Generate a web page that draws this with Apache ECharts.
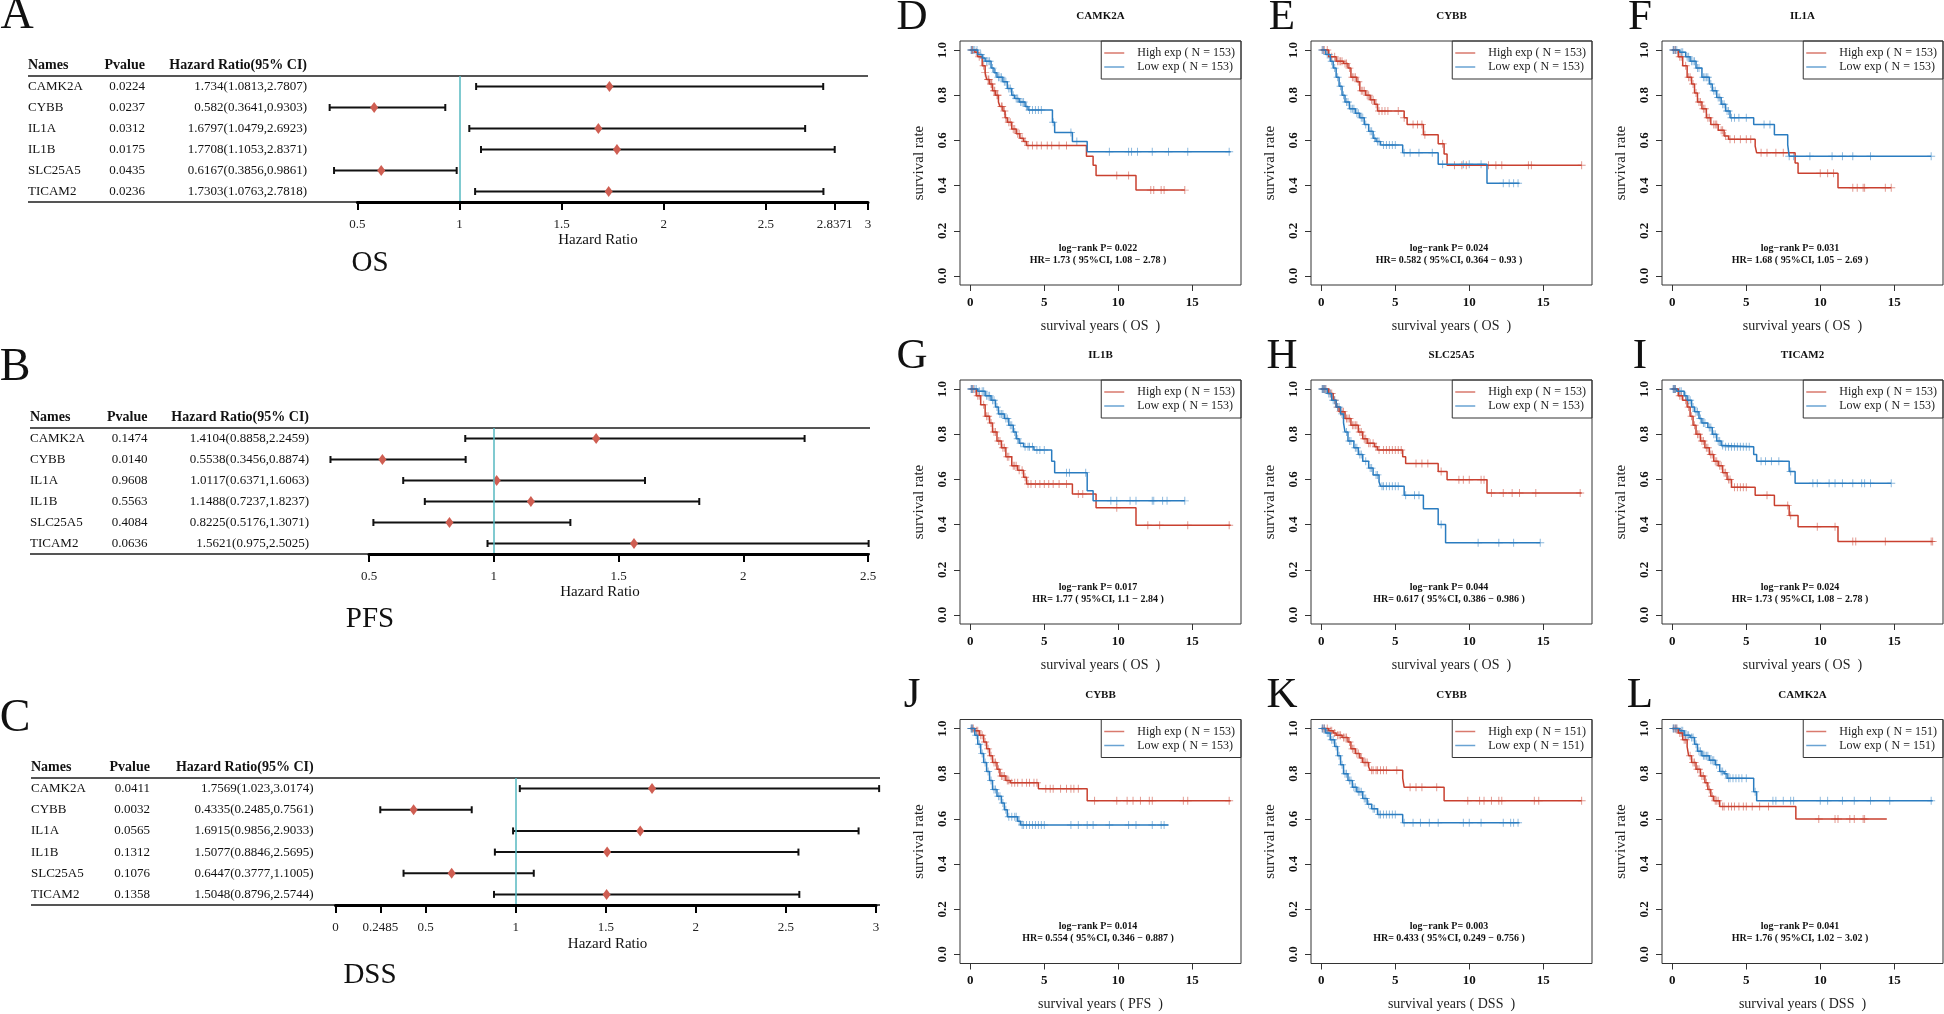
<!DOCTYPE html>
<html>
<head>
<meta charset="utf-8">
<title>Forest plots and Kaplan-Meier curves</title>
<script src="https://cdn.jsdelivr.net/npm/echarts@6/dist/echarts.min.js"></script>
<style>
  html, body { margin: 0; background: #fff; }
  #chart { width: 1944px; height: 1014px; }
</style>
</head>
<body>
<div id="chart"></div>
<script>
// ---------- forest plot data ----------
var genes = ['CAMK2A', 'CYBB', 'IL1A', 'IL1B', 'SLC25A5', 'TICAM2'];

var osP  = ['0.0224', '0.0237', '0.0312', '0.0175', '0.0435', '0.0236'];
var osHR = [1.734, 0.582, 1.6797, 1.7708, 0.6167, 1.7303];
var osLo = [1.0813, 0.3641, 1.0479, 1.1053, 0.3856, 1.0763];
var osHi = [2.7807, 0.9303, 2.6923, 2.8371, 0.9861, 2.7818];
var osTicks = [0.5, 1, 1.5, 2, 2.5, 2.8371, 3];

var pfsP  = ['0.1474', '0.0140', '0.9608', '0.5563', '0.4084', '0.0636'];
var pfsHR = [1.4104, 0.5538, 1.0117, 1.1488, 0.8225, 1.5621];
var pfsLo = [0.8858, 0.3456, 0.6371, 0.7237, 0.5176, 0.975];
var pfsHi = [2.2459, 0.8874, 1.6063, 1.8237, 1.3071, 2.5025];
var pfsTicks = [0.5, 1, 1.5, 2, 2.5];

var dssP  = ['0.0411', '0.0032', '0.0565', '0.1312', '0.1076', '0.1358'];
var dssHR = [1.7569, 0.4335, 1.6915, 1.5077, 0.6447, 1.5048];
var dssLo = [1.023, 0.2485, 0.9856, 0.8846, 0.3777, 0.8796];
var dssHi = [3.0174, 0.7561, 2.9033, 2.5695, 1.1005, 2.5744];
var dssTicks = [0, 0.2485, 0.5, 1, 1.5, 2, 2.5, 3];

// ---------- Kaplan-Meier data: [years, survival] steps, censor times ----------
var dHigh = [[0,1],[0.3,0.99],[0.5,0.97],[0.8,0.93],[1.0,0.90],[1.1,0.87],[1.3,0.85],[1.5,0.82],[1.7,0.80],[1.9,0.77],[2.0,0.75],[2.2,0.73],[2.35,0.70],[2.5,0.68],[2.8,0.65],[3.1,0.63],[3.35,0.61],[3.6,0.595],[3.8,0.578],[7.85,0.53],[8.3,0.49],[8.5,0.445],[11.2,0.38],[14.5,0.38]];
var dHighCens = [0.1,0.15,0.4,0.6,0.9,1.0,1.2,1.25,1.4,1.45,1.6,1.65,1.8,1.85,2.1,2.15,2.3,2.4,2.6,2.7,2.9,3.0,3.2,3.3,3.5,3.7,3.9,4.2,4.5,4.8,5.2,5.5,6.0,6.5,9.9,10.7,12.2,12.4,12.9,13.1,14.5];
var dLow = [[0,1],[0.5,0.98],[0.8,0.965],[1.0,0.95],[1.4,0.92],[1.6,0.90],[1.8,0.88],[2.2,0.86],[2.5,0.83],[2.8,0.80],[3.0,0.785],[3.3,0.77],[3.7,0.75],[3.9,0.735],[5.55,0.68],[5.7,0.635],[6.9,0.595],[7.9,0.55],[17.6,0.55]];
var dLowCens = [0.05,0.1,0.2,0.3,0.45,0.7,0.9,1.1,1.2,1.3,1.5,1.7,1.9,2.0,2.1,2.3,2.4,2.6,2.7,2.9,3.1,3.2,3.4,3.5,3.6,3.8,4.0,4.2,4.4,4.6,4.8,5.6,6.8,7.2,9.4,10.7,10.9,11.3,12.3,13.4,14.7,17.5];

var eHigh = [[0,1],[0.5,0.97],[1.0,0.95],[1.5,0.94],[1.8,0.92],[2.0,0.88],[2.4,0.86],[2.6,0.82],[3.0,0.80],[3.3,0.78],[3.6,0.76],[3.8,0.73],[5.6,0.70],[5.8,0.67],[6.9,0.625],[7.9,0.585],[8.3,0.54],[8.5,0.49],[17.6,0.49]];
var eHighCens = [0.1,0.2,0.4,0.7,0.9,1.1,1.2,1.3,1.4,1.6,1.7,1.9,2.1,2.2,2.3,2.5,2.7,2.8,2.9,3.1,3.2,3.4,3.5,3.7,3.9,4.1,4.3,4.5,5.2,5.6,6.2,6.5,6.8,7.0,8.2,9.0,9.5,9.8,11.3,11.8,12.2,14.0,14.2,17.6];
var eLow = [[0,1],[0.3,0.98],[0.6,0.95],[0.8,0.92],[1.0,0.88],[1.2,0.84],[1.4,0.80],[1.6,0.77],[1.9,0.74],[2.3,0.72],[2.6,0.70],[2.9,0.67],[3.2,0.64],[3.5,0.61],[3.7,0.595],[4.0,0.58],[5.5,0.545],[7.9,0.495],[11.2,0.41],[13.4,0.41]];
var eLowCens = [0.05,0.15,0.4,0.5,0.7,0.9,1.1,1.3,1.5,1.7,1.8,2.0,2.1,2.2,2.4,2.5,2.7,2.8,3.0,3.3,3.4,3.6,3.8,3.9,4.2,4.4,4.6,4.8,5.0,5.6,6.0,6.6,7.5,8.2,9.6,10.0,10.8,12.3,12.7,13.0,13.3];

var fHigh = [[0,1],[0.4,0.97],[0.7,0.93],[1.0,0.88],[1.3,0.85],[1.5,0.81],[1.7,0.77],[2.0,0.74],[2.3,0.70],[2.6,0.67],[3.1,0.645],[3.5,0.62],[3.8,0.605],[5.6,0.575],[5.7,0.545],[8.3,0.50],[8.5,0.455],[11.2,0.39],[14.8,0.39]];
var fHighCens = [0.1,0.2,0.5,0.6,0.9,1.1,1.2,1.4,1.6,1.8,1.9,2.1,2.2,2.4,2.5,2.8,2.9,3.0,3.3,3.4,3.6,3.9,4.2,4.6,5.0,5.3,6.0,6.4,7.0,7.5,10.0,10.5,10.9,12.2,12.5,12.9,13.0,14.4,14.8];
var fLow = [[0,1],[0.5,0.99],[0.9,0.97],[1.2,0.95],[1.6,0.92],[2.0,0.88],[2.5,0.85],[2.7,0.82],[3.0,0.79],[3.3,0.76],[3.6,0.73],[3.9,0.70],[5.5,0.67],[6.9,0.625],[7.8,0.58],[7.9,0.53],[17.5,0.53]];
var fLowCens = [0.05,0.1,0.2,0.3,0.6,0.7,1.0,1.1,1.3,1.4,1.5,1.7,1.8,2.1,2.2,2.3,2.4,2.6,2.8,2.9,3.1,3.2,3.4,3.5,3.7,3.8,4.0,4.2,4.5,5.0,6.2,6.6,7.9,8.2,9.3,10.8,11.5,12.2,13.4,17.5];

var gHigh = [[0,1],[0.4,0.97],[0.7,0.93],[1.0,0.88],[1.3,0.85],[1.5,0.81],[1.8,0.77],[2.1,0.74],[2.4,0.70],[2.8,0.66],[3.2,0.64],[3.6,0.61],[3.8,0.58],[6.9,0.535],[8.5,0.475],[11.2,0.397],[17.6,0.397]];
var gHighCens = [0.1,0.2,0.5,0.6,0.9,1.1,1.2,1.4,1.6,1.7,1.9,2.0,2.2,2.3,2.5,2.6,2.9,3.0,3.1,3.3,3.5,3.7,3.9,4.1,4.4,4.7,5.0,5.3,5.6,6.0,6.5,7.3,7.6,9.9,12.0,12.8,14.7,17.5];
var gLow = [[0,1],[0.5,0.99],[1.0,0.97],[1.4,0.95],[1.7,0.92],[1.9,0.89],[2.3,0.87],[2.6,0.84],[2.9,0.81],[3.1,0.78],[3.3,0.76],[3.6,0.745],[4.3,0.73],[5.5,0.68],[5.7,0.63],[7.9,0.55],[8.3,0.505],[14.5,0.505]];
var gLowCens = [0.05,0.1,0.15,0.3,0.4,0.6,0.8,0.9,1.1,1.2,1.3,1.5,1.6,1.8,2.0,2.1,2.2,2.4,2.5,2.7,2.8,3.0,3.2,3.4,3.7,3.9,4.0,4.2,4.5,4.7,5.0,6.5,6.7,7.8,9.5,9.9,10.8,11.2,12.3,12.4,13.0,13.3,14.5];

var hHigh = [[0,1],[0.5,0.98],[0.8,0.95],[1.0,0.92],[1.2,0.90],[1.6,0.87],[2.0,0.84],[2.5,0.81],[2.8,0.78],[3.1,0.76],[3.6,0.745],[3.8,0.73],[5.5,0.70],[5.7,0.67],[7.9,0.635],[8.5,0.598],[11.2,0.54],[17.6,0.54]];
var hHighCens = [0.1,0.2,0.3,0.6,0.7,0.9,1.1,1.3,1.4,1.5,1.7,1.8,1.9,2.1,2.2,2.3,2.4,2.6,2.7,2.9,3.0,3.2,3.3,3.5,3.7,3.9,4.2,4.4,4.6,4.8,5.0,5.2,5.4,6.4,6.8,7.2,8.1,9.3,9.6,10.0,10.8,11.0,11.5,12.3,12.9,13.4,14.5,17.5];
var hLow = [[0,1],[0.4,0.98],[0.7,0.95],[1.0,0.92],[1.3,0.89],[1.5,0.85],[1.6,0.81],[1.8,0.77],[2.2,0.74],[2.5,0.71],[2.8,0.68],[3.2,0.65],[3.5,0.62],[3.9,0.59],[4.0,0.57],[5.6,0.53],[6.9,0.47],[7.9,0.40],[8.4,0.32],[14.8,0.32]];
var hLowCens = [0.05,0.1,0.15,0.2,0.3,0.5,0.6,0.8,0.9,1.1,1.2,1.4,1.7,1.9,2.0,2.3,2.4,2.6,2.7,3.0,3.3,3.4,3.7,3.8,4.1,4.2,4.4,4.6,4.8,5.0,5.2,5.7,6.3,6.6,8.1,10.6,12.0,13.0,14.8];

var iHigh = [[0,1],[0.4,0.97],[0.7,0.95],[1.0,0.92],[1.2,0.88],[1.4,0.84],[1.6,0.80],[1.9,0.77],[2.2,0.74],[2.5,0.71],[2.8,0.68],[3.1,0.66],[3.4,0.63],[3.7,0.60],[4.0,0.565],[5.6,0.53],[6.9,0.485],[7.9,0.44],[8.5,0.39],[11.2,0.325],[17.6,0.325]];
var iHighCens = [0.1,0.2,0.5,0.6,0.9,1.1,1.3,1.5,1.7,1.8,2.0,2.1,2.3,2.4,2.6,2.7,2.9,3.0,3.2,3.3,3.5,3.6,3.8,3.9,4.2,4.4,4.6,4.8,5.0,6.4,7.8,8.0,9.8,11.0,12.2,12.4,14.4,17.5,17.6];
var iLow = [[0,1],[0.3,0.99],[0.8,0.97],[1.0,0.95],[1.3,0.92],[1.5,0.90],[1.8,0.87],[2.0,0.85],[2.4,0.83],[2.7,0.80],[3.0,0.77],[3.3,0.75],[3.5,0.745],[5.5,0.71],[5.7,0.68],[7.9,0.635],[8.3,0.583],[14.8,0.583]];
var iLowCens = [0.05,0.1,0.15,0.2,0.5,0.6,0.9,1.1,1.2,1.4,1.6,1.7,1.9,2.1,2.2,2.5,2.6,2.8,2.9,3.1,3.2,3.4,3.6,3.8,4.0,4.2,4.4,4.6,4.8,5.0,5.2,6.0,6.3,6.7,7.2,8.0,9.5,9.8,10.6,11.0,11.5,12.2,12.8,13.0,13.4,14.8];

var jHigh = [[0,1],[0.3,0.99],[0.6,0.97],[0.9,0.94],[1.1,0.91],[1.3,0.88],[1.5,0.85],[1.8,0.82],[2.0,0.79],[2.4,0.77],[2.7,0.76],[4.6,0.733],[7.9,0.68],[17.6,0.68]];
var jHighCens = [0.1,0.2,0.4,0.5,0.7,0.8,1.0,1.2,1.4,1.6,1.7,1.9,2.1,2.2,2.3,2.5,2.6,2.8,3.0,3.2,3.5,3.8,4.0,4.3,4.5,5.1,5.4,5.6,6.1,6.5,6.8,7.0,7.3,8.4,9.9,10.6,11.0,11.5,12.1,12.3,14.4,14.7,17.5];
var jLow = [[0,1],[0.3,0.97],[0.5,0.93],[0.7,0.89],[0.9,0.85],[1.1,0.81],[1.3,0.77],[1.5,0.73],[1.8,0.70],[2.1,0.67],[2.3,0.64],[2.5,0.61],[3.2,0.59],[3.4,0.573],[13.4,0.573]];
var jLowCens = [0.05,0.1,0.15,0.4,0.6,0.8,1.0,1.2,1.4,1.6,1.7,1.9,2.0,2.2,2.4,2.6,2.8,3.0,3.1,3.3,3.5,3.6,3.8,4.0,4.2,4.4,4.6,4.8,5.0,6.8,7.3,7.9,8.3,9.4,10.7,11.2,12.3,12.9,13.1];

var kHigh = [[0,1],[0.5,0.99],[0.8,0.98],[1.0,0.97],[1.4,0.96],[1.8,0.94],[2.0,0.91],[2.3,0.89],[2.6,0.87],[2.8,0.85],[3.2,0.83],[3.3,0.815],[5.5,0.78],[5.6,0.74],[8.3,0.68],[17.6,0.68]];
var kHighCens = [0.1,0.2,0.4,0.6,0.7,0.9,1.1,1.2,1.3,1.5,1.6,1.7,1.9,2.1,2.2,2.4,2.5,2.7,2.9,3.0,3.1,3.4,3.5,3.7,3.8,4.0,4.2,4.4,5.1,6.0,6.4,6.8,7.8,9.9,10.7,11.0,11.5,12.0,12.2,14.4,14.7,17.6];
var kLow = [[0,1],[0.3,0.98],[0.6,0.95],[0.9,0.92],[1.1,0.88],[1.3,0.84],[1.5,0.80],[1.8,0.77],[2.1,0.74],[2.4,0.72],[2.8,0.69],[3.1,0.665],[3.4,0.645],[3.8,0.62],[5.5,0.583],[13.4,0.583]];
var kLowCens = [0.05,0.1,0.2,0.4,0.5,0.7,0.8,1.0,1.2,1.4,1.6,1.7,1.9,2.0,2.2,2.3,2.5,2.6,2.7,2.9,3.0,3.2,3.5,3.6,3.9,4.0,4.2,4.4,4.6,4.8,5.0,5.6,6.2,6.7,7.3,7.9,9.6,10.0,10.8,12.3,12.8,13.0,13.3];

var lHigh = [[0,1],[0.4,0.98],[0.7,0.95],[1.0,0.92],[1.1,0.88],[1.3,0.85],[1.6,0.82],[1.9,0.79],[2.2,0.76],[2.4,0.73],[2.6,0.70],[2.8,0.68],[3.2,0.655],[8.35,0.60],[14.5,0.60]];
var lHighCens = [0.1,0.2,0.3,0.5,0.6,0.8,0.9,1.2,1.4,1.5,1.7,1.8,2.0,2.1,2.3,2.5,2.7,2.9,3.0,3.1,3.4,3.5,3.8,4.0,4.2,4.5,4.8,5.0,5.4,5.9,6.5,9.9,11.0,11.2,12.0,12.3,12.9,13.0];
var lLow = [[0,1],[0.5,0.99],[0.8,0.97],[1.2,0.96],[1.5,0.93],[1.7,0.90],[2.0,0.88],[2.5,0.86],[2.9,0.84],[3.2,0.81],[3.5,0.80],[3.7,0.78],[5.5,0.72],[5.7,0.68],[17.6,0.68]];
var lLowCens = [0.05,0.1,0.2,0.3,0.6,0.7,0.9,1.0,1.1,1.3,1.4,1.6,1.8,1.9,2.1,2.2,2.3,2.4,2.6,2.7,2.8,3.0,3.3,3.4,3.6,3.8,3.9,4.1,4.3,4.5,4.7,5.0,5.6,6.8,7.0,7.5,8.0,8.2,10.0,10.5,11.5,12.3,13.4,14.7,17.5];

var kmLetters   = ['D', 'E', 'F', 'G', 'H', 'I', 'J', 'K', 'L'];
var kmGenes     = ['CAMK2A', 'CYBB', 'IL1A', 'IL1B', 'SLC25A5', 'TICAM2', 'CYBB', 'CYBB', 'CAMK2A'];
var kmEndpoints = ['OS', 'OS', 'OS', 'OS', 'OS', 'OS', 'PFS', 'DSS', 'DSS'];
var kmN         = [153, 153, 153, 153, 153, 153, 153, 151, 151];
var kmLogrankP  = ['0.022', '0.024', '0.031', '0.017', '0.044', '0.024', '0.014', '0.003', '0.041'];
var kmHR        = ['1.73', '0.582', '1.68', '1.77', '0.617', '1.73', '0.554', '0.433', '1.76'];
var kmCILo      = ['1.08', '0.364', '1.05', '1.1', '0.386', '1.08', '0.346', '0.249', '1.02'];
var kmCIHi      = ['2.78', '0.93', '2.69', '2.84', '0.986', '2.78', '0.887', '0.756', '3.02'];
var kmHigh      = [dHigh, eHigh, fHigh, gHigh, hHigh, iHigh, jHigh, kHigh, lHigh];
var kmHighCens  = [dHighCens, eHighCens, fHighCens, gHighCens, hHighCens, iHighCens, jHighCens, kHighCens, lHighCens];
var kmLow       = [dLow, eLow, fLow, gLow, hLow, iLow, jLow, kLow, lLow];
var kmLowCens   = [dLowCens, eLowCens, fLowCens, gLowCens, hLowCens, iLowCens, jLowCens, kLowCens, lLowCens];
var kmXTicks = [0, 5, 10, 15];
var kmYTicks = [0, 0.2, 0.4, 0.6, 0.8, 1.0];

// ---------- layout and style ----------
var FONT = '"Liberation Serif", "Times New Roman", serif';
var RED = '#c9402f', BLUE = '#2a7cc0', TEAL = '#56b8c0', DIAMOND = '#cf5e52';
var CENSOR = 'path://M4.4,0H5.6V4.4H10V5.6H5.6V10H4.4V5.6H0V4.4H4.4Z';

var forests = [
  { letter: 'A', ep: 'OS', p: osP, hr: osHR, lo: osLo, hi: osHi, ticks: osTicks, min: 0.5, max: 3,
    left: 357.4, right: 868, top: 76, bottom: 202, namesX: 28, pRight: 145, hrRight: 307,
    headerY: 65, lineL: 28, lineR: 868, letterX: 17, letterY: 16, xlabX: 598, xlabY: 240, epY: 263 },
  { letter: 'B', ep: 'PFS', p: pfsP, hr: pfsHR, lo: pfsLo, hi: pfsHi, ticks: pfsTicks, min: 0.5, max: 2.5,
    left: 369, right: 868, top: 428, bottom: 554, namesX: 30, pRight: 147.5, hrRight: 309,
    headerY: 417, lineL: 30, lineR: 870, letterX: 15, letterY: 368, xlabX: 600, xlabY: 592, epY: 619 },
  { letter: 'C', ep: 'DSS', p: dssP, hr: dssHR, lo: dssLo, hi: dssHi, ticks: dssTicks, min: 0, max: 3,
    left: 335.5, right: 876, top: 778, bottom: 905, namesX: 31, pRight: 150, hrRight: 313.6,
    headerY: 767, lineL: 31, lineR: 880, letterX: 15, letterY: 719, xlabX: 607.6, xlabY: 944, epY: 975 }
];

var kmLeft = [960, 1311, 1662], kmTop = [41, 380, 719.5], kmW = 281, kmH = 244;
var kmLetterX = [912, 1282, 1640];

function font(size, bold) { return (bold ? 'bold ' : '') + size + 'px ' + FONT; }
function text(str, x, y, size, bold, align, extra) {
  var st = { text: str, x: x, y: y, font: font(size, bold), fill: '#111',
    textAlign: align || 'center', align: align || 'center',
    textVerticalAlign: 'middle', verticalAlign: 'middle' };
  if (extra) for (var k in extra) st[k] = extra[k];
  return { type: 'text', z: 10, silent: true, style: st };
}
function hline(x1, x2, y, color, w) {
  return { type: 'line', z: 0, silent: true, shape: { x1: x1, y1: y, x2: x2, y2: y },
    style: { stroke: color, lineWidth: w } };
}
function stepAt(curve, t) {
  var s = curve[0][1];
  for (var i = 0; i < curve.length; i++) { if (curve[i][0] <= t) s = curve[i][1]; }
  return s;
}

var grid = [], xAxis = [], yAxis = [], series = [], legend = [], graphic = [];

// ---------- forest plots ----------
forests.forEach(function (f, k) {
  grid.push({ left: f.left, top: f.top, width: f.right - f.left, height: f.bottom - f.top,
    show: false, outerBoundsMode: 'none' });
  xAxis.push({ gridIndex: k, type: 'value', min: f.min, max: f.max, z: 5,
    splitLine: { show: false },
    axisLine: { show: true, onZero: false, lineStyle: { color: '#000', width: 3 } },
    axisTick: { show: true, length: 8, customValues: f.ticks, lineStyle: { color: '#000', width: 2 } },
    axisLabel: { customValues: f.ticks, margin: 16, fontFamily: FONT, fontSize: 13, color: '#222',
      formatter: function (v) { return String(v); } } });
  yAxis.push({ gridIndex: k, type: 'category', data: genes, inverse: true, show: false });

  series.push({
    type: 'custom', xAxisIndex: k, yAxisIndex: k, clip: false, z: 3,
    encode: { x: [0, 1], y: 2 },
    data: f.lo.map(function (lo, i) { return [lo, f.hi[i], i]; }),
    renderItem: function (params, api) {
      var a = api.coord([api.value(0), api.value(2)]);
      var b = api.coord([api.value(1), api.value(2)]);
      var st = { stroke: '#111', lineWidth: 2 };
      return { type: 'group', children: [
        { type: 'line', shape: { x1: a[0], y1: a[1], x2: b[0], y2: b[1] }, style: st },
        { type: 'line', shape: { x1: a[0], y1: a[1] - 3.5, x2: a[0], y2: a[1] + 3.5 }, style: st },
        { type: 'line', shape: { x1: b[0], y1: b[1] - 3.5, x2: b[0], y2: b[1] + 3.5 }, style: st }
      ] };
    }
  });
  series.push({
    type: 'scatter', xAxisIndex: k, yAxisIndex: k, z: 4, symbol: 'diamond', symbolSize: [8, 11],
    itemStyle: { color: DIAMOND, opacity: 1 },
    data: f.hr.map(function (v, i) { return [v, i]; }),
    markLine: { silent: true, symbol: ['none', 'none'], label: { show: false },
      lineStyle: { color: TEAL, width: 1.5, type: 'solid' }, data: [{ xAxis: 1 }] }
  });
  series.push({
    type: 'custom', xAxisIndex: k, yAxisIndex: k, clip: false, z: 3,
    encode: { x: 0, y: 1 },
    data: f.hr.map(function (v, i) { return [v, i]; }),
    renderItem: function (params, api) {
      var i = api.value(1);
      var y = api.coord([api.value(0), i])[1];
      var hrStr = f.hr[i] + '(' + f.lo[i] + ',' + f.hi[i] + ')';
      return { type: 'group', children: [
        text(genes[i], f.namesX, y, 13, false, 'left'),
        text(f.p[i], f.pRight, y, 13, false, 'right'),
        text(hrStr, f.hrRight, y, 13, false, 'right')
      ] };
    }
  });

  graphic.push(text(f.letter, f.letterX, f.letterY, 46, false, 'center'));
  graphic.push(text('Names', f.namesX, f.headerY, 14, true, 'left'));
  graphic.push(text('Pvalue', f.pRight, f.headerY, 14, true, 'right'));
  graphic.push(text('Hazard Ratio(95% CI)', f.hrRight, f.headerY, 14, true, 'right'));
  graphic.push(hline(f.lineL, f.lineR, f.top, '#555', 2));
  graphic.push(hline(f.lineL, f.lineR, f.bottom, '#555', 2));
  graphic.push(text('Hazard Ratio', f.xlabX, f.xlabY, 15, false, 'center'));
  graphic.push(text(f.ep, 370, f.epY, 29, false, 'center'));
});

// ---------- Kaplan-Meier panels ----------
kmGenes.forEach(function (gene, p) {
  var row = Math.floor(p / 3), col = p % 3, gi = 3 + p;
  var left = kmLeft[col], top = kmTop[row];
  var hiName = 'High exp ( N = ' + kmN[p] + ')';
  var loName = 'Low exp ( N = ' + kmN[p] + ')';

  grid.push({ left: left, top: top, width: kmW, height: kmH, show: true,
    borderColor: '#333', borderWidth: 1, backgroundColor: 'transparent', outerBoundsMode: 'none' });
  xAxis.push({ gridIndex: gi, type: 'value', min: -0.7, max: 18.3,
    splitLine: { show: false },
    axisLine: { show: false, onZero: false },
    axisTick: { show: true, length: 6, customValues: kmXTicks, lineStyle: { color: '#333' } },
    axisLabel: { customValues: kmXTicks, margin: 11, fontFamily: FONT, fontSize: 13, fontWeight: 'bold', color: '#111' },
    name: 'survival years ( ' + kmEndpoints[p] + '  )', nameLocation: 'middle', nameGap: 34,
    nameTextStyle: { fontFamily: FONT, fontSize: 14, color: '#222' } });
  yAxis.push({ gridIndex: gi, type: 'value', min: -0.04, max: 1.04,
    splitLine: { show: false },
    axisLine: { show: false, onZero: false },
    axisTick: { show: true, length: 6, customValues: kmYTicks, lineStyle: { color: '#333' } },
    axisLabel: { customValues: kmYTicks, rotate: 90, margin: 11, fontFamily: FONT, fontSize: 13,
      fontWeight: 'bold', color: '#111', formatter: function (v) { return v.toFixed(1); } },
    name: 'survival rate', nameLocation: 'middle', nameGap: 33, nameRotate: 90,
    nameTextStyle: { fontFamily: FONT, fontSize: 15, color: '#222' } });

  [[kmHigh[p], kmHighCens[p], RED, hiName], [kmLow[p], kmLowCens[p], BLUE, loName]].forEach(function (g) {
    series.push({ type: 'line', name: g[3], xAxisIndex: gi, yAxisIndex: gi, step: 'end',
      showSymbol: false, symbol: 'none', color: g[2], z: 3,
      lineStyle: { color: g[2], width: 1.5 }, data: g[0] });
    series.push({ type: 'scatter', xAxisIndex: gi, yAxisIndex: gi, symbol: CENSOR, symbolSize: 8, z: 2,
      itemStyle: { color: g[2], opacity: 0.55 },
      data: g[1].map(function (t) { return [t, stepAt(g[0], t)]; }) });
  });

  legend.push({ orient: 'vertical', right: 1944 - (left + kmW), top: top,
    data: [{ name: hiName, itemStyle: { opacity: 0.7 } }, { name: loName, itemStyle: { opacity: 0.7 } }],
    icon: 'rect', itemWidth: 20, itemHeight: 1.5, itemGap: 2, padding: [6, 6, 6, 3],
    borderColor: '#333', borderWidth: 1, borderRadius: 0, selectedMode: false,
    textStyle: { fontFamily: FONT, fontSize: 12, color: '#222', padding: [0, 0, 0, 8] } });

  graphic.push(text(kmLetters[p], kmLetterX[col], top - 23.5, 43, false, 'center'));
  graphic.push(text(gene, left + kmW / 2, top - 24.5, 11, true, 'center'));
  graphic.push(text('log\u2212rank P= ' + kmLogrankP[p], left + 138, top + 207, 10, true, 'center'));
  graphic.push(text('HR= ' + kmHR[p] + ' ( 95%CI, ' + kmCILo[p] + ' \u2212 ' + kmCIHi[p] + ' )',
    left + 138, top + 219, 10, true, 'center'));
});

var chart = echarts.init(document.getElementById('chart'));
chart.setOption({
  animation: false,
  backgroundColor: '#fff',
  grid: grid, xAxis: xAxis, yAxis: yAxis, legend: legend,
  graphic: { elements: graphic },
  series: series
});
</script>
</body>
</html>
